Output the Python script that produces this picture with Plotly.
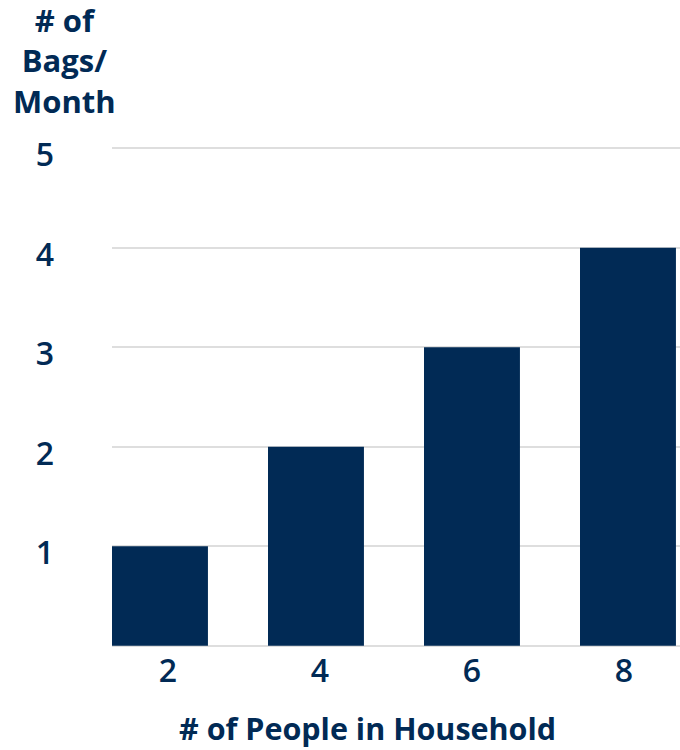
import plotly.graph_objects as go

# data
people = [2, 4, 6, 8]
bags = [1, 2, 3, 4]
y_ticks = [1, 2, 3, 4, 5]

navy = "#012A55"
font = "Open Sans"

fig = go.Figure()
fig.add_trace(go.Bar(
    x=people,
    y=bags,
    width=1.23,
    marker=dict(color=navy, line=dict(width=0)),
    hoverinfo="skip",
))
# invisible copy on the label axis so it gets drawn
fig.add_trace(go.Scatter(
    x=people,
    y=bags,
    xaxis="x2",
    mode="markers",
    marker=dict(opacity=0),
    hoverinfo="skip",
))

fig.update_layout(
    width=680,
    height=750,
    margin=dict(l=112, r=0, t=147, b=103),
    plot_bgcolor="white",
    paper_bgcolor="white",
    showlegend=False,
    font=dict(family=font, color=navy),
    xaxis=dict(
        range=[1.385, 8.667],
        showticklabels=False,
        showgrid=False,
        zeroline=False,
        showline=False,
        ticks="",
        fixedrange=True,
    ),
    # labels sit on a slightly narrower spacing than the bars
    xaxis2=dict(
        overlaying="x",
        anchor="y",
        side="bottom",
        range=[1.263, 8.737],
        tickvals=people,
        ticktext=[str(p) for p in people],
        tickfont=dict(size=32, family=font, color=navy, weight=600),
        showgrid=False,
        zeroline=False,
        showline=False,
        ticks="",
        ticklabelstandoff=2,
        fixedrange=True,
    ),
    yaxis=dict(
        range=[-0.012, 5.012],
        tickvals=[0] + y_ticks,
        ticktext=[""] + [str(v) for v in y_ticks],
        tickfont=dict(size=32, family=font, color=navy, weight=600),
        showgrid=True,
        gridcolor="#DEDEDE",
        gridwidth=2,
        zeroline=False,
        showline=False,
        ticks="",
        ticklabelstandoff=57,
        ticklabelshift=7,
        fixedrange=True,
    ),
)

# y title, stacked over the tick labels
fig.add_annotation(
    text="# of<br>Bags/<br>Month",
    xref="paper", yref="paper",
    x=0, y=1.0,
    xanchor="center", yanchor="middle",
    xshift=-48, yshift=87,
    showarrow=False,
    align="center",
    font=dict(size=31, family=font, color=navy, weight=700),
)

# x title
fig.add_annotation(
    text="# of People in Household",
    xref="paper", yref="paper",
    x=0.449, y=0,
    xanchor="center", yanchor="middle",
    yshift=-81,
    showarrow=False,
    font=dict(size=30.5, family=font, color=navy, weight=700),
)

# drop the default body margin so the figure fills the window exactly
fig.write_html(
    "out.html",
    config={"displayModeBar": False},
    post_script="document.body.style.margin='0';",
)
